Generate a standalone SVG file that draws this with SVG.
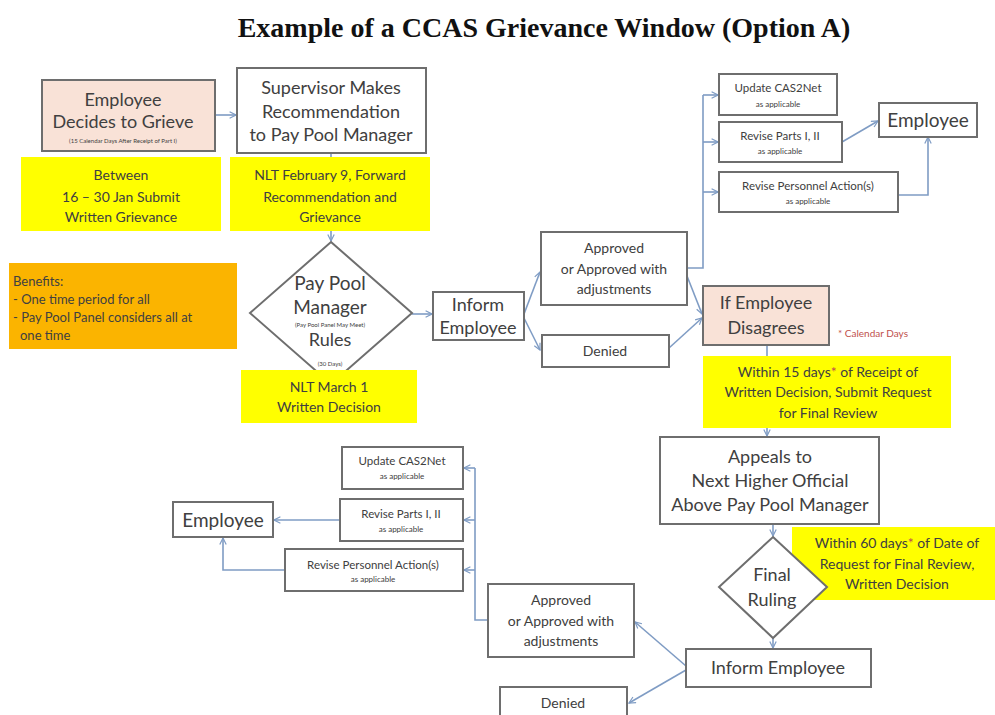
<svg xmlns="http://www.w3.org/2000/svg" width="995" height="715" viewBox="0 0 995 715">
<defs>
<marker id="arr" viewBox="0 0 10 10" refX="9" refY="5" markerWidth="8" markerHeight="8" markerUnits="userSpaceOnUse" orient="auto">
<path d="M1,1 L9,5 L1,9" fill="none" stroke="#7f9cc4" stroke-width="1.5"/>
</marker>
<style>
.bx{fill:#ffffff;stroke:#6e6e6e;stroke-width:2}
.pe{fill:#f9e2d7;stroke:#6e6e6e;stroke-width:2}
.ye{fill:#ffff00;stroke:none}
.or{fill:#fbb400;stroke:none}
.cn{fill:none;stroke:#7f9cc4;stroke-width:1.6}
text{font-family:Lato,"Open Sans","Liberation Sans",sans-serif;fill:#404040;text-anchor:middle}
.t18{font-size:18px}
.t19{font-size:19px}
.t14{font-size:14px}
.t13{font-size:13px}
.t11{font-size:11.5px}
.t8{font-size:8px}
.t6{font-size:6px}
.red{fill:#c0504d}
.lt{text-anchor:start}
</style>
</defs>
<rect width="995" height="715" fill="#ffffff"/>
<text x="544" y="37" style="font-family:'Liberation Serif','Times New Roman',serif;font-weight:bold;font-size:28px;fill:#111">Example of a CCAS Grievance Window (Option A)</text>

<g id="connectors">
<line class="cn" x1="215" y1="115" x2="236" y2="115" marker-end="url(#arr)"/>
<line class="cn" x1="331" y1="153" x2="331" y2="241" marker-end="url(#arr)"/>
<line class="cn" x1="412" y1="314" x2="432" y2="314" marker-end="url(#arr)"/>
<line class="cn" x1="524" y1="314" x2="540" y2="272" marker-end="url(#arr)"/>
<line class="cn" x1="524" y1="318" x2="540" y2="350" marker-end="url(#arr)"/>
<polyline class="cn" points="687,268 703,268 703,95"/>
<line class="cn" x1="703" y1="95" x2="718" y2="95" marker-end="url(#arr)"/>
<line class="cn" x1="703" y1="142" x2="718" y2="142" marker-end="url(#arr)"/>
<line class="cn" x1="703" y1="192" x2="718" y2="192" marker-end="url(#arr)"/>
<line class="cn" x1="842" y1="142" x2="878" y2="121" marker-end="url(#arr)"/>
<polyline class="cn" points="898,195 928,195 928,137" marker-end="url(#arr)"/>
<line class="cn" x1="687" y1="276" x2="702" y2="314" marker-end="url(#arr)"/>
<line class="cn" x1="669" y1="348" x2="702" y2="318" marker-end="url(#arr)"/>
<line class="cn" x1="767" y1="345" x2="767" y2="436" marker-end="url(#arr)"/>
<line class="cn" x1="773" y1="524" x2="773" y2="536" marker-end="url(#arr)"/>
<line class="cn" x1="773" y1="638" x2="773" y2="648" marker-end="url(#arr)"/>
<line class="cn" x1="686" y1="666" x2="635" y2="622" marker-end="url(#arr)"/>
<line class="cn" x1="686" y1="670" x2="629" y2="703" marker-end="url(#arr)"/>
<polyline class="cn" points="488,620 475,620 475,468"/>
<line class="cn" x1="475" y1="468" x2="464" y2="468" marker-end="url(#arr)"/>
<line class="cn" x1="475" y1="520" x2="464" y2="520" marker-end="url(#arr)"/>
<line class="cn" x1="475" y1="570" x2="464" y2="570" marker-end="url(#arr)"/>
<line class="cn" x1="340" y1="520" x2="274" y2="520" marker-end="url(#arr)"/>
<polyline class="cn" points="285,570 223,570 223,538" marker-end="url(#arr)"/>
</g>

<g id="employee-decides">
<rect class="pe" x="42" y="80" width="173" height="71"/>
<text class="t18" x="123" y="106">Employee</text>
<text class="t18" x="123" y="128">Decides to Grieve</text>
<text class="t6" x="123" y="143">(15 Calendar Days After Receipt of Part I)</text>
</g>
<g id="supervisor">
<rect class="bx" x="237" y="68" width="189" height="85"/>
<text class="t18" x="331" y="94">Supervisor  Makes</text>
<text class="t18" x="331" y="118">Recommendation</text>
<text class="t18" x="331" y="141">to Pay Pool Manager</text>
</g>
<g id="note-between">
<rect class="ye" x="21" y="157" width="200" height="74"/>
<text class="t14" x="121" y="180">Between</text>
<text class="t14" x="121" y="202">16 – 30 Jan Submit</text>
<text class="t14" x="121" y="222">Written Grievance</text>
</g>
<g id="note-nlt-feb">
<rect class="ye" x="230" y="157" width="200" height="74"/>
<text class="t14" x="330" y="180">NLT February 9, Forward</text>
<text class="t14" x="330" y="202">Recommendation  and</text>
<text class="t14" x="330" y="222">Grievance</text>
</g>
<g id="benefits">
<rect class="or" x="9" y="263" width="228" height="86"/>
<text class="t13 lt" x="13" y="286">Benefits:</text>
<text class="t13 lt" x="13" y="304">- One time period for all</text>
<text class="t13 lt" x="13" y="322">- Pay Pool Panel considers all at</text>
<text class="t13 lt" x="20" y="340">one time</text>
</g>
<g id="pay-pool-manager">
<polygon class="bx" points="331,242 412,313 331,384 250,313"/>
<text class="t19" x="330" y="290">Pay Pool</text>
<text class="t19" x="330" y="314">Manager</text>
<text class="t6" x="330" y="327">(Pay Pool Panel May Meet)</text>
<text class="t18" x="330" y="346">Rules</text>
<text class="t6" x="330" y="366">(30 Days)</text>
</g>
<g id="note-nlt-march">
<rect class="ye" x="241" y="370" width="176" height="53"/>
<text class="t14" x="329" y="392">NLT March 1</text>
<text class="t14" x="329" y="412">Written Decision</text>
</g>
<g id="inform-1">
<rect class="bx" x="433" y="292" width="91" height="48"/>
<text class="t18" x="478" y="311">Inform</text>
<text class="t18" x="478" y="334">Employee</text>
</g>
<g id="approved-1">
<rect class="bx" x="541" y="232" width="146" height="73"/>
<text class="t14" x="614" y="253">Approved</text>
<text class="t14" x="614" y="274">or Approved with</text>
<text class="t14" x="614" y="294">adjustments</text>
</g>
<g id="denied-1">
<rect class="bx" x="542" y="335" width="127" height="32"/>
<text class="t14" x="605" y="356">Denied</text>
</g>
<g id="update-1">
<rect class="bx" x="719" y="74" width="118" height="41"/>
<text class="t11" x="778" y="92">Update CAS2Net</text>
<text class="t8" x="778" y="107">as applicable</text>
</g>
<g id="parts-1">
<rect class="bx" x="719" y="122" width="123" height="40"/>
<text class="t11" x="780" y="140">Revise Parts I, II</text>
<text class="t8" x="780" y="154">as applicable</text>
</g>
<g id="personnel-1">
<rect class="bx" x="719" y="172" width="179" height="40"/>
<text class="t11" x="808" y="190">Revise Personnel Action(s)</text>
<text class="t8" x="808" y="204">as applicable</text>
</g>
<g id="employee-1">
<rect class="bx" x="879" y="103" width="98" height="34"/>
<text class="t19" x="928" y="127">Employee</text>
</g>
<g id="if-disagrees">
<rect class="pe" x="703" y="286" width="126" height="59"/>
<text class="t18" x="766" y="309">If Employee</text>
<text class="t18" x="766" y="334">Disagrees</text>
</g>
<text class="red lt" x="838" y="337" style="font-size:10px">* Calendar Days</text>
<g id="note-15-days">
<rect class="ye" x="703" y="356" width="248" height="72"/>
<text class="t14" x="828" y="377">Within 15 days<tspan class="red">*</tspan> of Receipt of</text>
<text class="t14" x="828" y="397">Written Decision, Submit Request</text>
<text class="t14" x="828" y="418">for Final Review</text>
</g>
<g id="appeals">
<rect class="bx" x="660" y="437" width="219" height="87"/>
<text class="t18" x="770" y="463">Appeals to</text>
<text class="t18" x="770" y="487">Next Higher Official</text>
<text class="t18" x="770" y="511">Above Pay Pool Manager</text>
</g>
<g id="note-60-days">
<rect class="ye" x="792" y="527" width="203" height="73"/>
<text class="t14" x="897" y="548">Within 60 days<tspan class="red">*</tspan> of Date of</text>
<text class="t14" x="897" y="569">Request for Final Review,</text>
<text class="t14" x="897" y="589">Written Decision</text>
</g>
<g id="final-ruling">
<polygon class="bx" points="773,537 827,587 773,638 719,587"/>
<text class="t18" x="772" y="581">Final</text>
<text class="t18" x="772" y="606">Ruling</text>
</g>
<g id="inform-2">
<rect class="bx" x="686" y="649" width="185" height="38"/>
<text class="t18" x="778" y="674">Inform Employee</text>
</g>
<g id="approved-2">
<rect class="bx" x="488" y="584" width="146" height="73"/>
<text class="t14" x="561" y="605">Approved</text>
<text class="t14" x="561" y="626">or Approved with</text>
<text class="t14" x="561" y="646">adjustments</text>
</g>
<g id="denied-2">
<rect class="bx" x="500" y="687" width="127" height="36"/>
<text class="t14" x="563" y="708">Denied</text>
</g>
<g id="update-2">
<rect class="bx" x="342" y="447" width="121" height="42"/>
<text class="t11" x="402" y="465">Update CAS2Net</text>
<text class="t8" x="402" y="479">as applicable</text>
</g>
<g id="parts-2">
<rect class="bx" x="340" y="499" width="123" height="42"/>
<text class="t11" x="401" y="518">Revise Parts I, II</text>
<text class="t8" x="401" y="532">as applicable</text>
</g>
<g id="personnel-2">
<rect class="bx" x="285" y="549" width="178" height="42"/>
<text class="t11" x="373" y="569">Revise Personnel Action(s)</text>
<text class="t8" x="373" y="582">as applicable</text>
</g>
<g id="employee-2">
<rect class="bx" x="173" y="502" width="100" height="35"/>
<text class="t19" x="223" y="527">Employee</text>
</g>
</svg>
